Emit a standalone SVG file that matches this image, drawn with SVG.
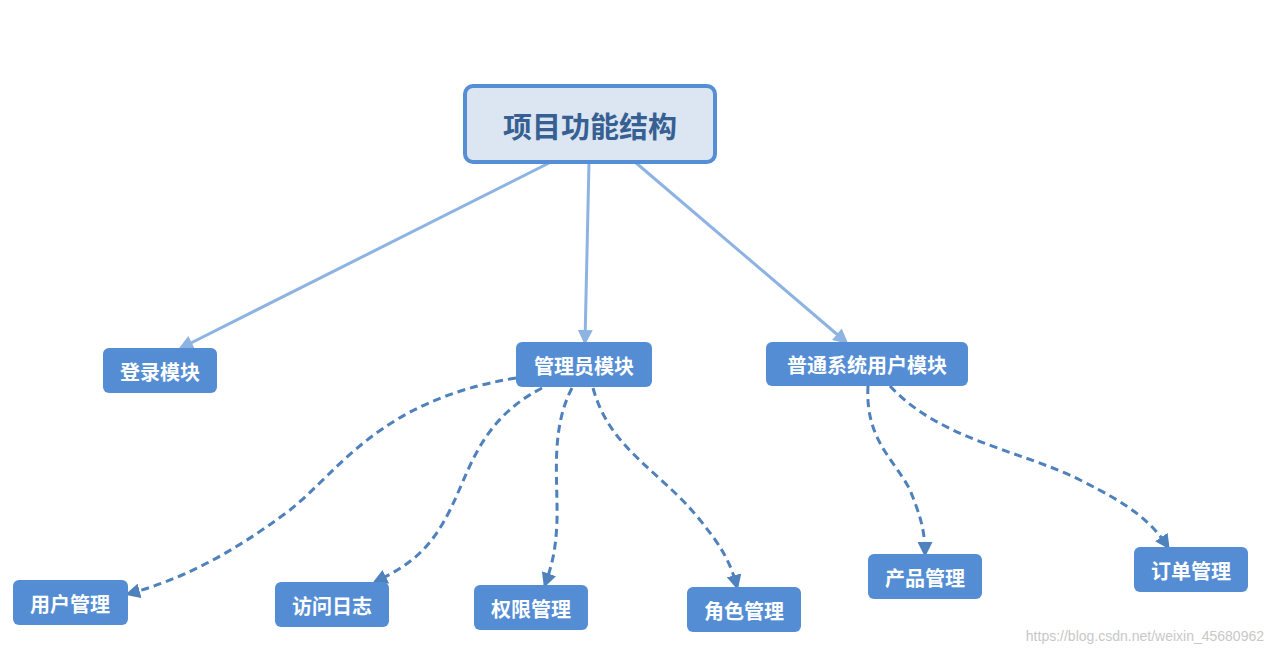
<svg xmlns="http://www.w3.org/2000/svg" width="1273" height="654" viewBox="0 0 1273 654">
<style>
.n rect{fill:#548dd4;}
.n text{fill:#fff;font:bold 20px "Noto Sans CJK SC","Liberation Sans",sans-serif;text-anchor:middle;dominant-baseline:central;}
.s{stroke:#8db3e2;stroke-width:3;fill:none;}
.d{stroke:#4f81bd;stroke-width:3;fill:none;stroke-dasharray:8 5;}
</style>
<defs>
<marker id="a1" viewBox="0 0 10 10" refX="8" refY="5" markerWidth="5" markerHeight="5" orient="auto"><path d="M0,0L10,5L0,10z" fill="#8db3e2"/></marker>
<marker id="a2" viewBox="0 0 10 10" refX="8" refY="5" markerWidth="5" markerHeight="5" orient="auto"><path d="M0,0L10,5L0,10z" fill="#4f81bd"/></marker>
</defs>
<rect width="1273" height="654" fill="#fff"/>
<g id="connectors">
<path class="s" d="M551,162L181,348" marker-end="url(#a1)"/>
<path class="s" d="M589,162L585,342" marker-end="url(#a1)"/>
<path class="s" d="M635,162L846,342" marker-end="url(#a1)"/>
<path class="d" d="M516,378C380,400 340,470 290,510C230,555 180,580 128,594" marker-end="url(#a2)"/>
<path class="d" d="M542,388C480,420 470,470 450,510C430,550 410,565 375,582" marker-end="url(#a2)"/>
<path class="d" d="M572,388C550,430 558,480 557,520C556,550 552,565 545,585" marker-end="url(#a2)"/>
<path class="d" d="M593,388C610,450 660,470 700,520C720,545 730,560 737,587" marker-end="url(#a2)"/>
<path class="d" d="M868,386C865,440 895,460 910,490C920,515 925,530 925,554" marker-end="url(#a2)"/>
<path class="d" d="M890,386C940,440 1020,450 1080,480C1130,505 1150,520 1168,547" marker-end="url(#a2)"/>
</g>
<g id="root">
<rect x="465" y="86" width="250" height="76" rx="8" fill="#dce6f2" stroke="#558ed5" stroke-width="4"/>
<text x="590" y="125" fill="#376092" style="font:bold 29px 'Noto Sans CJK SC','Liberation Sans',sans-serif" text-anchor="middle" dominant-baseline="central">项目功能结构</text>
</g>
<g id="login" class="n"><rect x="103" y="348" width="114" height="45" rx="6"/><text x="160" y="371">登录模块</text></g>
<g id="admin" class="n"><rect x="516" y="342" width="136" height="45" rx="6"/><text x="584" y="365">管理员模块</text></g>
<g id="user" class="n"><rect x="766" y="342" width="202" height="44" rx="6"/><text x="867" y="364">普通系统用户模块</text></g>
<g id="usermgr" class="n"><rect x="13" y="580" width="115" height="45" rx="6"/><text x="70" y="603">用户管理</text></g>
<g id="log" class="n"><rect x="275" y="582" width="114" height="45" rx="6"/><text x="332" y="605">访问日志</text></g>
<g id="perm" class="n"><rect x="474" y="585" width="114" height="45" rx="6"/><text x="531" y="608">权限管理</text></g>
<g id="role" class="n"><rect x="687" y="587" width="114" height="45" rx="6"/><text x="744" y="610">角色管理</text></g>
<g id="product" class="n"><rect x="868" y="554" width="114" height="45" rx="6"/><text x="925" y="577">产品管理</text></g>
<g id="order" class="n"><rect x="1134" y="547" width="114" height="45" rx="6"/><text x="1191" y="570">订单管理</text></g>
<text x="1264" y="641" text-anchor="end" fill="#c8c8c8" style="font:14px 'Liberation Sans',sans-serif">https://blog.csdn.net/weixin_45680962</text>
</svg>
